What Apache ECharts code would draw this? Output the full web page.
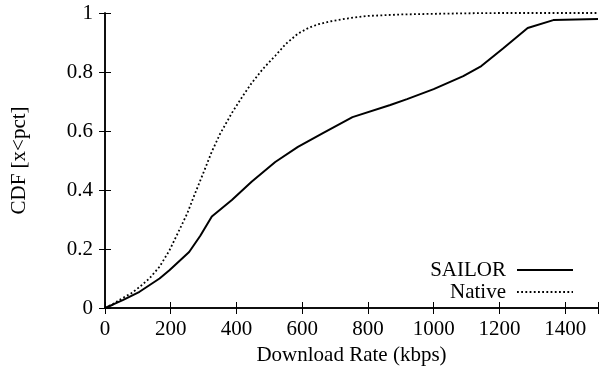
<!DOCTYPE html>
<html>
<head>
<meta charset="utf-8">
<script src="https://cdn.jsdelivr.net/npm/echarts@6/dist/echarts.min.js"></script>
<style>
html,body{margin:0;padding:0;background:#fff;}
#chart{width:601px;height:373px;}
</style>
</head>
<body>
<div id="chart"></div>
<script>
var xTicks = [0, 200, 400, 600, 800, 1000, 1200, 1400];
var yTicks = [0, 0.2, 0.4, 0.6, 0.8, 1];

var sailorRate = [0, 25, 54, 105, 166, 196, 256, 290, 325, 386, 446, 518, 587, 663, 753, 868, 919, 1000, 1090, 1145, 1211, 1286, 1364, 1500];
var sailorCdf  = [0, 0.012, 0.027, 0.055, 0.1, 0.128, 0.19, 0.245, 0.31, 0.366, 0.428, 0.495, 0.546, 0.593, 0.647, 0.688, 0.708, 0.742, 0.786, 0.82, 0.88, 0.949, 0.976, 0.98];

var nativeRate = [0, 25, 54, 80, 105, 135, 166, 196, 226, 250, 271, 300, 325, 350, 386, 420, 446, 480, 518, 550, 587, 620, 650, 687, 740, 798, 900, 988, 1100, 1200, 1500];
var nativeCdf  = [0, 0.014, 0.034, 0.05, 0.071, 0.1, 0.14, 0.195, 0.264, 0.32, 0.38, 0.46, 0.53, 0.59, 0.661, 0.72, 0.762, 0.81, 0.855, 0.895, 0.93, 0.95, 0.962, 0.972, 0.982, 0.99, 0.995, 0.997, 0.999, 1, 1];

function pairs(xs, ys){ return xs.map(function(x,i){ return [x, ys[i]]; }); }

var font = '"Liberation Serif", "DejaVu Serif", serif';
var fs = 21;
var chart = echarts.init(document.getElementById('chart'), null, {renderer:'canvas'});
chart.setOption({
  backgroundColor: '#fff',
  animation: false,
  textStyle: {fontFamily: font, color: '#000'},
  grid: {left: 105, top: 13, width: 498, height: 295},
  legend: {
    orient: 'vertical',
    right: 22,
    top: 254,
    align: 'right',
    itemWidth: 56,
    itemHeight: 10,
    itemGap: 0,
    padding: 5,
    itemStyle: {opacity: 0},
    textStyle: {fontFamily: font, fontSize: fs, lineHeight: 22, color: '#000', padding: [0, 6, 0, 0]},
    data: ['SAILOR', 'Native']
  },
  xAxis: [{
    type: 'value', min: 0, max: 1500, interval: 200,
    position: 'bottom',
    name: 'Download Rate (kbps)', nameLocation: 'middle', nameGap: 36,
    nameTextStyle: {fontFamily: font, fontSize: fs, color: '#000'},
    axisLine: {show: true, lineStyle: {color: '#000', width: 1.5}},
    axisTick: {show: true, inside: true, length: 6, lineStyle: {color: '#000', width: 1}},
    axisLabel: {fontFamily: font, fontSize: fs, color: '#000', margin: 11,
      formatter: function(v){ return xTicks.indexOf(v) >= 0 ? String(v) : ''; }},
    splitLine: {show: false}
  }, {
    type: 'value', min: 0, max: 1500, interval: 200,
    position: 'top',
    axisLine: {show: true, lineStyle: {color: '#000', width: 1.5}},
    axisTick: {show: true, inside: true, length: 6, lineStyle: {color: '#000', width: 1}},
    axisLabel: {show: false},
    splitLine: {show: false}
  }],
  yAxis: [{
    type: 'value', min: 0, max: 1, interval: 0.2,
    position: 'left',
    name: 'CDF [x<pct]', nameLocation: 'middle', nameGap: 75,
    nameTextStyle: {fontFamily: font, fontSize: fs, color: '#000'},
    axisLine: {show: true, lineStyle: {color: '#000', width: 1.5}},
    axisTick: {show: true, inside: true, length: 6, lineStyle: {color: '#000', width: 1}},
    axisLabel: {fontFamily: font, fontSize: fs, color: '#000', margin: 12,
      formatter: function(v){ return String(Math.round(v*10)/10); }},
    splitLine: {show: false}
  }, {
    type: 'value', min: 0, max: 1, interval: 0.2,
    position: 'right',
    axisLine: {show: true, lineStyle: {color: '#000', width: 1.5}},
    axisTick: {show: true, inside: true, length: 6, lineStyle: {color: '#000', width: 1}},
    axisLabel: {show: false},
    splitLine: {show: false}
  }],
  series: [{
    name: 'SAILOR', type: 'line', showSymbol: false, symbol: 'none',
    data: pairs(sailorRate, sailorCdf),
    lineStyle: {color: '#000', width: 2},
    itemStyle: {color: '#000'}
  }, {
    name: 'Native', type: 'line', showSymbol: false, symbol: 'none',
    data: pairs(nativeRate, nativeCdf),
    lineStyle: {color: '#000', width: 1.8, type: [1.8, 2.4]},
    itemStyle: {color: '#000'}
  }]
});
</script>
</body>
</html>
